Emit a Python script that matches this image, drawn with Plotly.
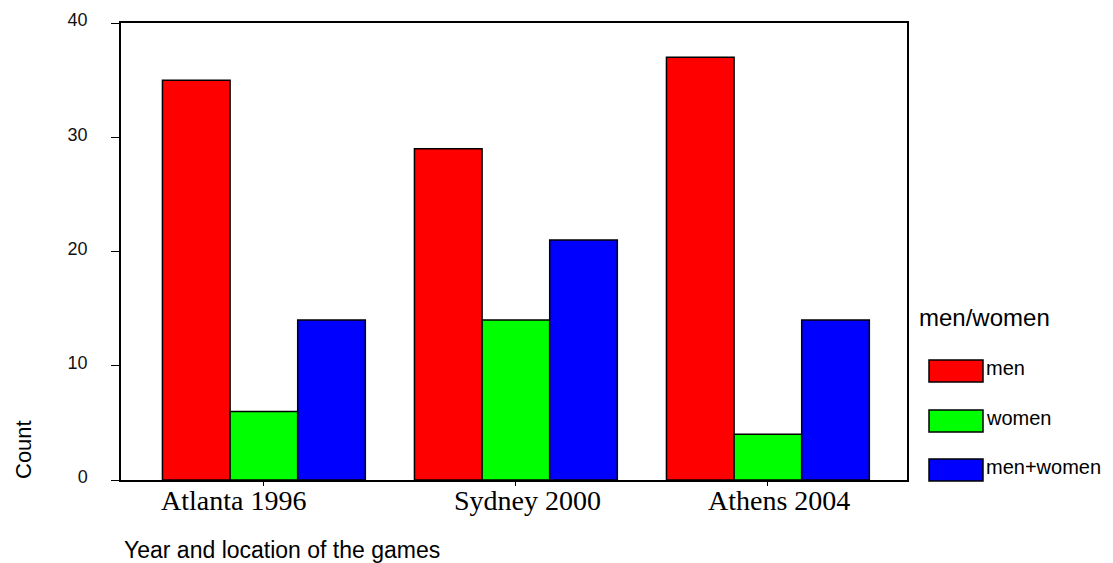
import plotly.graph_objects as go

categories = ["Atlanta 1996", "Sydney 2000", "Athens 2004"]
series_names = ["men", "women", "men+women"]
men_values = [35, 29, 37]
women_values = [6, 14, 4]
both_values = [14, 21, 14]
series_values = [men_values, women_values, both_values]
colors = ["#ff0000", "#00ff00", "#0000ff"]
y_ticks = [0, 10, 20, 30, 40]

W, H = 1113, 563
OFF = 8  # browser default body margin
L, R, T, B = 121, 907, 23, 480

def px_x(p):
    return (p - L) / (R - L)

def px_y(p):
    return (B - p) / (B - T)

fig = go.Figure()
for name, vals, col in zip(series_names, series_values, colors):
    fig.add_trace(go.Bar(
        x=categories, y=vals, name=name,
        marker=dict(color=col, line=dict(color="black", width=1.5)),
        showlegend=False,
    ))

fig.update_layout(
    width=W - OFF, height=H - OFF,
    margin=dict(l=L - OFF, r=W - R, t=T - OFF, b=H - B, autoexpand=False),
    paper_bgcolor="white", plot_bgcolor="white",
    barmode="group", bargap=0.195, bargroupgap=0,
    font=dict(family="Liberation Sans, Arial", color="black"),
    xaxis=dict(
        type="category", range=[-0.567, 2.552], automargin=False,
        showline=True, linecolor="black", linewidth=1.5, mirror=True,
        ticks="outside", ticklen=4, tickcolor="black",
        showticklabels=False,
        showgrid=False,
    ),
    yaxis=dict(
        range=[0, 40], tickvals=y_ticks, automargin=False,
        showline=True, linecolor="black", linewidth=1.5, mirror=True,
        ticks="outside", ticklen=8, tickcolor="black",
        ticklabelstandoff=20, ticklabelshift=-3,
        tickfont=dict(family="Liberation Sans, Arial", size=18, color="#111"),
        showgrid=False, zeroline=False,
    ),
)

ann = []
# category labels under the axis (slightly offset as in the original)
label_shifts = [-30, 12, 11]
for cat, dx in zip(categories, label_shifts):
    ann.append(dict(text=cat, x=cat, xref="x", y=px_y(500), yref="paper",
                    xshift=dx, xanchor="center", yanchor="middle", showarrow=False,
                    font=dict(size=28, family="Liberation Serif, Times New Roman")))
ann.append(dict(text="Count", textangle=-90, x=px_x(23), y=px_y(450),
                xref="paper", yref="paper", xanchor="center", yanchor="middle",
                showarrow=False, font=dict(size=22, family="Liberation Sans, Arial")))
ann.append(dict(text="Year and location of the games", x=px_x(122), y=px_y(550),
                xref="paper", yref="paper", xanchor="left", yanchor="middle",
                showarrow=False, font=dict(size=23, family="Liberation Sans, Arial")))
ann.append(dict(text="men/women", x=px_x(917), y=px_y(317),
                xref="paper", yref="paper", xanchor="left", yanchor="middle",
                showarrow=False, font=dict(size=24, family="Liberation Sans, Arial")))

shapes = []
centers = [371, 421, 470]
for name, col, cy in zip(series_names, colors, centers):
    shapes.append(dict(type="rect", xref="paper", yref="paper",
                       x0=px_x(929), x1=px_x(983), y0=px_y(cy + 11), y1=px_y(cy - 11),
                       fillcolor=col, line=dict(color="black", width=1.5)))
    ann.append(dict(text=name, x=px_x(984), y=px_y(cy - 3),
                    xref="paper", yref="paper", xanchor="left", yanchor="middle",
                    showarrow=False, font=dict(size=20, family="Liberation Sans, Arial")))

fig.update_layout(annotations=ann, shapes=shapes)
fig.write_html("out.html")
